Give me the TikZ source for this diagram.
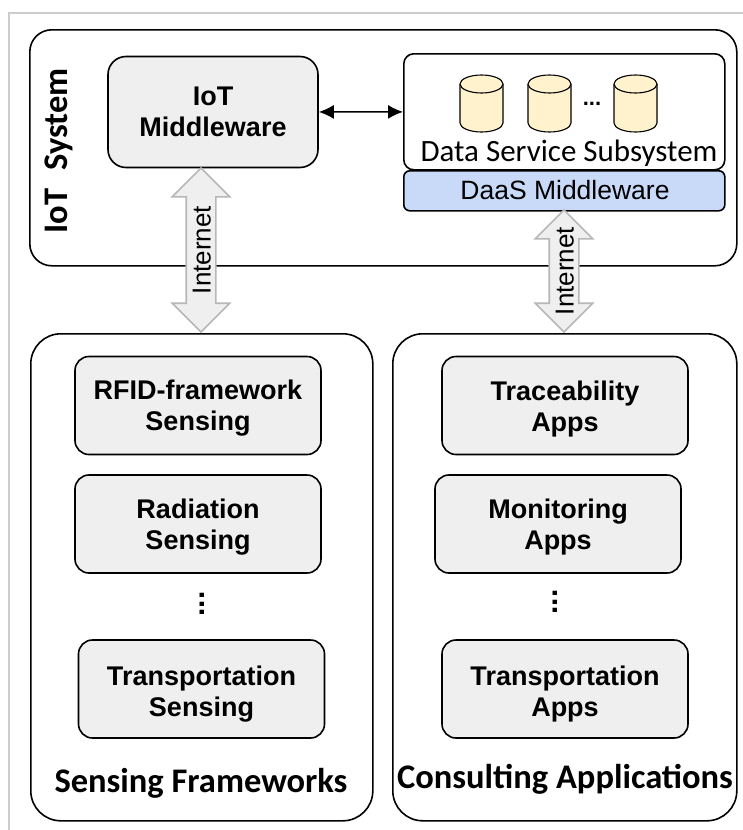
\documentclass[tikz,border=0pt]{standalone}
\usepackage{fontspec}
\setmainfont{Liberation Sans}
\newfontfamily\labelfont{Carlito}
\usetikzlibrary{arrows.meta,shapes.arrows}
\definecolor{boxgray}{HTML}{EFEFEF}
\definecolor{daasblue}{HTML}{C9DAF8}
\definecolor{dbyellow}{HTML}{FFF2CC}
\definecolor{framegray}{HTML}{CCCCCC}
\definecolor{arrowgray}{HTML}{B7B7B7}
\newcommand{\lowrule}{\rule{0pt}{25.6pt}}
\newcommand{\lowerrule}{\rule{0pt}{29.6pt}}
\tikzset{
    outerbox/.style={draw, line width=1.6pt, rounded corners=#1, anchor=north west},
    appbox/.style={draw, line width=1.6pt, fill=boxgray, rounded corners=14pt, align=center, font=\fontsize{27}{31}\selectfont\bfseries, minimum width=246pt, minimum height=98pt},
    dbcyl/.pic={
        \draw[line width=1.1pt, fill=dbyellow] (-21.5,9) -- (-21.5,48) arc[start angle=180, end angle=0, x radius=21.5, y radius=9] -- (21.5,9);
        \draw[line width=1.1pt, fill=dbyellow] (0,9) ellipse [x radius=21.5, y radius=9];
    },
    netarrow/.style={draw=arrowgray, line width=1.6pt, fill=boxgray, shape=double arrow, rotate=90, double arrow head extend=14pt, double arrow tip angle=90, inner xsep=0pt, inner ysep=4.5pt, minimum width=56pt, font=\fontsize{26}{26}\selectfont, text height=19pt, text depth=0pt},
    heading/.style={font=\labelfont\fontsize{34.5}{34.5}\selectfont\bfseries},
}
\begin{document}
\begin{tikzpicture}[x=1pt,y=-1pt]
    \useasboundingbox (0,0) rectangle (743,830);
    \coordinate (framea) at (743,13);
    \coordinate (frameb) at (9,13);
    \coordinate (framec) at (9,830);
    \draw[framegray, line width=2pt] (framea) -- (frameb) -- (framec);

    \node[outerbox=22pt, minimum width=707pt, minimum height=236pt] (iot) at (29,29) {};
    \node[outerbox=30pt, minimum width=342pt, minimum height=487pt] (sensing) at (30,333) {};
    \node[outerbox=30pt, minimum width=344pt, minimum height=487pt] (consulting) at (392,333) {};

    \node[heading, rotate=90] (iotlabel) at (59,151) {IoT\hspace{18pt}System};

    \node[appbox, rounded corners=18pt, minimum width=210pt, minimum height=111pt] (iotmw) at (213,112) {IoT\\Middleware};
    \node[outerbox=10pt, minimum width=321pt, minimum height=116pt] (dss) at (403,53) {};
    \node[outerbox=6pt, fill=daasblue, minimum width=321pt, minimum height=40pt] (daas) at (403,170) {};
    \node[font=\fontsize{26.5}{26.5}\selectfont] (daaslabel) at (565,190) {DaaS Middleware};
    \node[font=\labelfont\fontsize{31}{31}\selectfont] (dsslabel) at (569,153) {Data Service Subsystem};

    \pic at (481.5,75) {dbcyl};
    \pic at (549.5,75) {dbcyl};
    \pic at (635.5,75) {dbcyl};
    \node[font=\fontsize{22}{22}\selectfont\bfseries] (dbdots) at (592,104) {...};

    \draw[{Latex[length=15pt,width=14pt]}-{Latex[length=15pt,width=14pt]}, line width=1.4pt] (iotmw) to (dss);

    \node[netarrow, minimum height=164pt] (net1) at (201,250) {Internet};
    \node[netarrow, minimum height=122pt] (net2) at (564,271) {Internet};

    \node[appbox] (rfid) at (198,405.5) {\lowrule RFID-framework\\Sensing};
    \node[appbox] (radiation) at (198,524) {\lowrule Radiation\\Sensing};
    \node[appbox] (transsens) at (201.5,689) {\lowerrule Transportation\\Sensing};
    \node[font=\fontsize{30}{30}\selectfont\bfseries] (dots1) at (202,604) {\rotatebox{90}{...}};
    \node[heading] (sensingname) at (201,783) {Sensing Frameworks};

    \node[appbox] (trace) at (565,405.5) {\lowrule Traceability\\Apps};
    \node[appbox] (monitor) at (558,524) {\lowrule Monitoring\\Apps};
    \node[appbox] (transapps) at (565,689) {\lowerrule Transportation\\Apps};
    \node[font=\fontsize{30}{30}\selectfont\bfseries] (dots2) at (555,602) {\rotatebox{90}{...}};
    \node[heading] (consultingname) at (565,779) {Consulting Applications};
\end{tikzpicture}
\end{document}
